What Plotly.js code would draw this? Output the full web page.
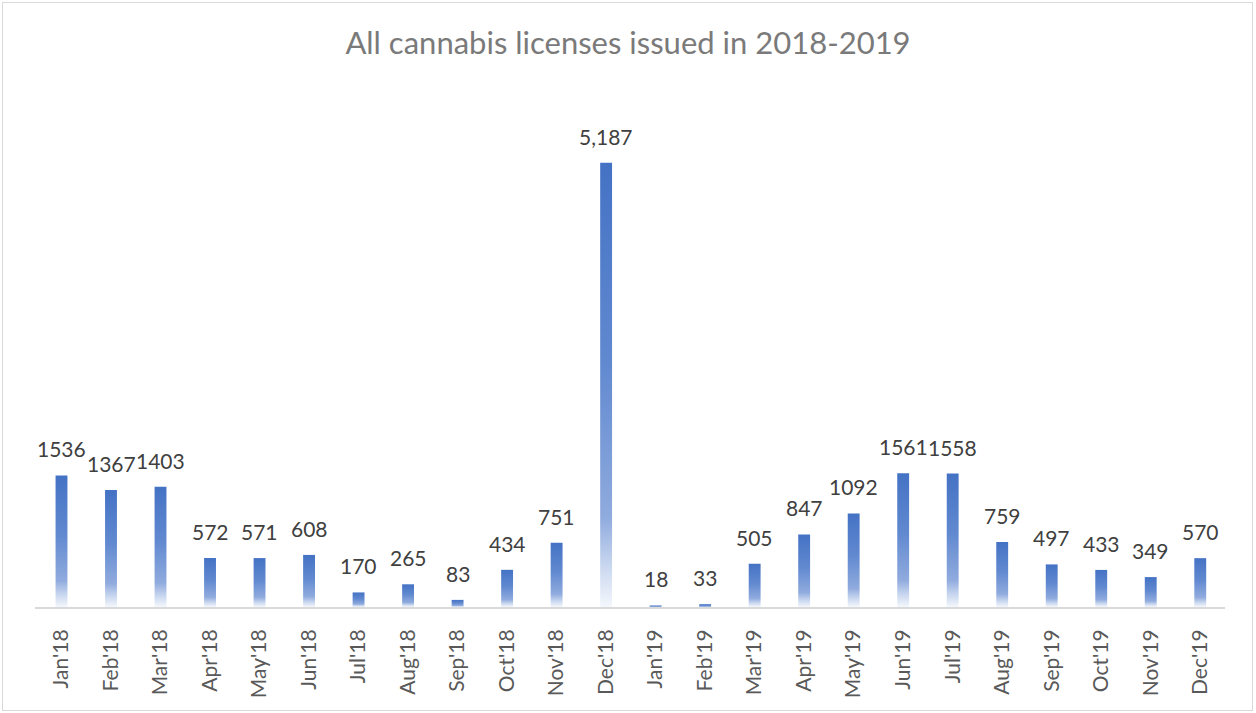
<!DOCTYPE html>
<html>
<head>
<meta charset="utf-8">
<script src="https://cdn.plot.ly/plotly-3.0.1.min.js"></script>
<style>
  html, body { margin: 0; padding: 0; background: #fff; }
  #wrap { position: relative; width: 1256px; height: 713px; }
  #chart { position: absolute; left: 0; top: 0; width: 1256px; height: 713px; }
  #frame { position: absolute; left: 2px; top: 2px; width: 1249px; height: 707px; border: 1px solid #d9d9d9; pointer-events: none; }
</style>
</head>
<body>
<div id="wrap"><div id="chart"></div><div id="frame"></div></div>
<script>
const months = ["Jan'18","Feb'18","Mar'18","Apr'18","May'18","Jun'18","Jul'18","Aug'18","Sep'18","Oct'18","Nov'18","Dec'18",
                "Jan'19","Feb'19","Mar'19","Apr'19","May'19","Jun'19","Jul'19","Aug'19","Sep'19","Oct'19","Nov'19","Dec'19"];
const licenses = [1536,1367,1403,572,571,608,170,265,83,434,751,5187,
                  18,33,505,847,1092,1561,1558,759,497,433,349,570];
const labelText = ["1536","1367","1403","572","571","608","170","265","83","434","751","5,187",
                   "18","33","505","847","1092","1561","1558","759","497","433","349","570"];

const trace = {
  type: 'bar',
  x: months,
  y: licenses,
  marker: { color: '#4472C4', line: { width: 0 } },
  hoverinfo: 'x+y'
};

const labelAnnotations = months.map(function (m, i) {
  return {
    x: m, y: licenses[i], xref: 'x', yref: 'y',
    text: labelText[i], showarrow: false,
    xanchor: 'center', yanchor: 'bottom', yshift: 12,
    font: { family: 'Lato, sans-serif', size: 21, color: '#404040' }
  };
});

const layout = {
  width: 1256, height: 713,
  margin: { l: 35, r: 31, t: 93, b: 106 },
  paper_bgcolor: '#ffffff', plot_bgcolor: '#ffffff',
  bargap: 0.76,
  showlegend: false,
  title: { text: 'All cannabis licenses issued in 2018-2019', x: 0.5, xanchor: 'center', y: 0.94, yanchor: 'middle',
           font: { family: 'Lato, sans-serif', size: 31, color: '#7a7a7a' } },
  xaxis: {
    type: 'category', tickangle: -90, showgrid: false, zeroline: false,
    showline: true, linecolor: '#d9d9d9', linewidth: 2,
    ticks: '', ticklabelstandoff: 12,
    tickfont: { family: 'Lato, sans-serif', size: 21, color: '#595959' }
  },
  yaxis: { range: [0, 6000], visible: false, showgrid: false, zeroline: false, fixedrange: true },
  annotations: labelAnnotations
};

Plotly.newPlot('chart', [trace], layout, { staticPlot: true }).then(function (gd) {
  const svg = gd.querySelector('svg.main-svg');
  const NS = 'http://www.w3.org/2000/svg';
  let defs = svg.querySelector('defs');
  if (!defs) { defs = document.createElementNS(NS, 'defs'); svg.insertBefore(defs, svg.firstChild); }
  const grad = document.createElementNS(NS, 'linearGradient');
  grad.setAttribute('id', 'barGrad');
  grad.setAttribute('x1', '0'); grad.setAttribute('y1', '0');
  grad.setAttribute('x2', '0'); grad.setAttribute('y2', '1');
  [['0', '#4472C4'], ['0.45', '#6189D0'], ['0.8', '#90ABDE'], ['0.9', '#C5D4EE'], ['1', '#F4F7FC']].forEach(function (s) {
    const st = document.createElementNS(NS, 'stop');
    st.setAttribute('offset', s[0]); st.setAttribute('stop-color', s[1]);
    grad.appendChild(st);
  });
  defs.appendChild(grad);
  gd.querySelectorAll('g.trace.bars g.point path').forEach(function (p) {
    p.style.fill = 'url(#barGrad)';
  });
});
</script>
</body>
</html>
